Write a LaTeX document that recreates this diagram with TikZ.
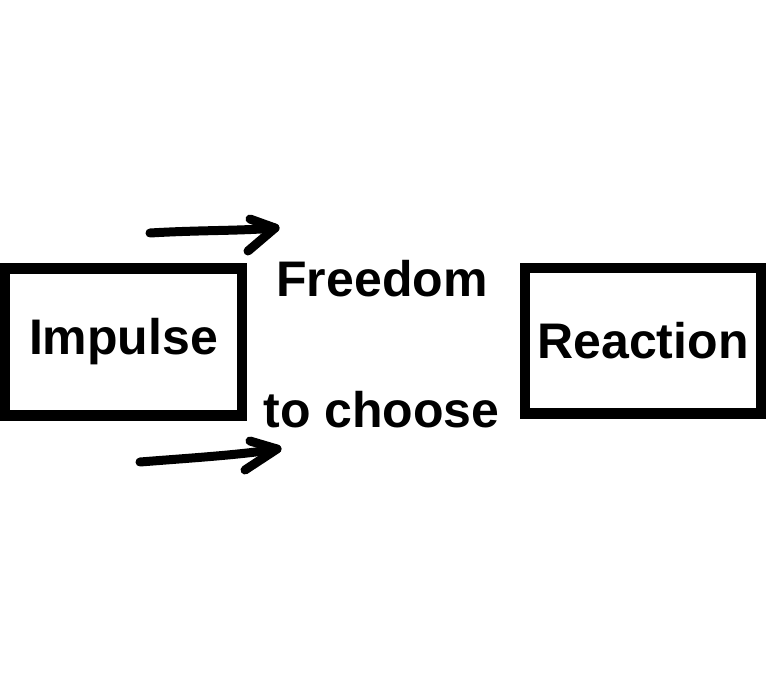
\documentclass[tikz,border=0pt]{standalone}
\usepackage{fontspec}
\setmainfont{Liberation Sans}
\begin{document}
\begin{tikzpicture}[x=1pt,y=-1pt,
  bigtext/.style={font=\fontsize{50}{60}\selectfont\bfseries, inner sep=0pt},
  framebox/.style={draw=black, line width=10.5pt, bigtext, align=center},
  handarrow/.style={draw=black, line width=9pt, line cap=round, line join=round}]
\useasboundingbox (0,0) rectangle (768,689);
\fill[white] (0,0) rectangle (768,689);
% boxes
\node[framebox, minimum width=237pt, minimum height=147pt] (impulse) at (123.5,342) {Impulse};
\node[framebox, minimum width=236pt, minimum height=145.5pt] (reaction) at (643,340.75) {Reaction};
% middle texts
\node[bigtext, anchor=base] (freedom) at (382,296) {Freedom};
\node[bigtext, anchor=base] (choose) at (381.5,427) {to choose};
% hand-drawn arrows
\coordinate (a1s) at (150,233);
\coordinate (a1t) at (275,228);
\coordinate (a1u) at (250,219);
\coordinate (a1l) at (248,251);
\coordinate (a2s) at (140,462);
\coordinate (a2t) at (277,449);
\coordinate (a2u) at (250,441);
\coordinate (a2l) at (245,470);
\draw[handarrow] (a1s) .. controls (200,230) and (240,231) .. (a1t);
\draw[handarrow] (a1u) -- (a1t) -- (a1l);
\draw[handarrow] (a2s) .. controls (190,458) and (240,455) .. (a2t);
\draw[handarrow] (a2u) -- (a2t) -- (a2l);
\end{tikzpicture}
\end{document}
